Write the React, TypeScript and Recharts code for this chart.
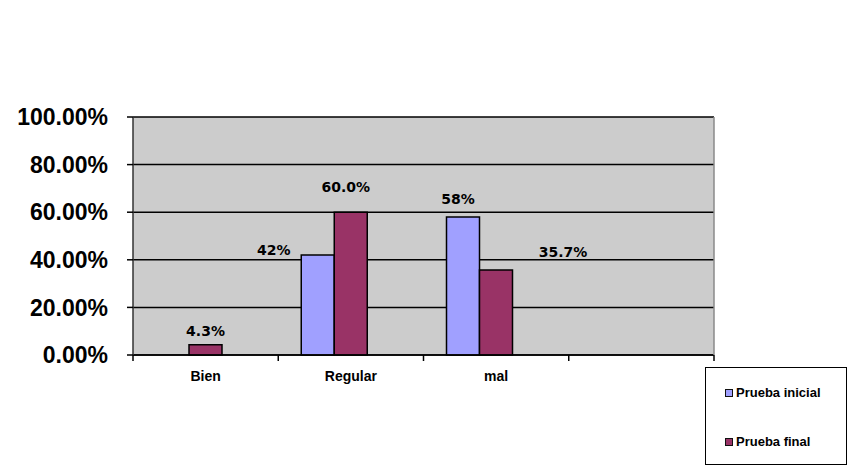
import React from "react";
import {
  BarChart,
  Bar,
  XAxis,
  YAxis,
  CartesianGrid,
  Legend,
  LabelList,
} from "recharts";

const categorias = ["Bien", "Regular", "mal", ""];
const pruebaInicial = [null, 0.42, 0.58, null];
const pruebaFinal = [0.043, 0.6, 0.357, null];
const serieVacia = [null, null, null, null];
const yTicks = [0, 0.2, 0.4, 0.6, 0.8, 1];

const data = categorias.map((cat, i) => ({
  cat,
  inicial: pruebaInicial[i],
  final: pruebaFinal[i],
  vacia: serieVacia[i],
}));

// label offsets per category (moved by hand in the original)
const offInicial = [[0, 0], [-44, -5], [-5, -18], [0, 0]];
const offFinal = [[0, -14], [-5, -25], [67, -18], [0, 0]];

const COLOR_INICIAL = "#A0A0FF";
const COLOR_FINAL = "#993366";
const TICK_SIZE = 6;
const TICK_MARGIN = 10;

const makeLabel = (serie: (number | null)[], offs: number[][], fmt: (v: number) => string) => (props: any) => {
  const { x, y, width, value } = props;
  if (value == null) return null;
  const idx = serie.indexOf(Number(value));
  const [dx, dy] = offs[idx] || [0, 0];
  return (
    <text
      x={Number(x) + Number(width) / 2 + dx}
      y={Number(y) + dy}
      textAnchor="middle"
      dominantBaseline="central"
      fontFamily="DejaVu Sans"
      fontWeight="bold"
      fontSize={14}
      fill="#000"
    >
      {fmt(Number(value))}
    </text>
  );
};

const XTick = (props: any) => {
  const { x, y, payload, width, visibleTicksCount, index } = props;
  const half = Number(width) / visibleTicksCount / 2;
  const axisY = Number(y) - TICK_SIZE - TICK_MARGIN;
  return (
    <g>
      {index === 0 && (
        <line x1={x - half} x2={x - half} y1={axisY} y2={axisY + TICK_SIZE} stroke="#000" strokeWidth={1.5} />
      )}
      <line x1={x + half} x2={x + half} y1={axisY} y2={axisY + TICK_SIZE} stroke="#000" strokeWidth={1.5} />
      <text
        x={x}
        y={y}
        dy="0.71em"
        textAnchor="middle"
        fontFamily="Liberation Sans"
        fontWeight="bold"
        fontSize={14}
        fill="#000"
      >
        {payload.value}
      </text>
    </g>
  );
};

const LegendBox = () => {
  const items = [
    { name: "Prueba inicial", color: COLOR_INICIAL, top: 18 },
    { name: "Prueba final", color: COLOR_FINAL, top: 67 },
  ];
  return (
    <div
      style={{
        width: 140,
        height: 96,
        border: "1px solid #000",
        background: "#fff",
        position: "relative",
        fontFamily: "Liberation Sans",
        fontWeight: "bold",
        fontSize: 13,
      }}
    >
      {items.map((it) => (
        <div
          key={it.name}
          style={{
            position: "absolute",
            left: 19,
            top: it.top,
            height: 13,
            display: "flex",
            alignItems: "center",
            whiteSpace: "nowrap",
          }}
        >
          <span
            style={{
              width: 6,
              height: 6,
              background: it.color,
              border: "1.5px solid #111",
              marginRight: 3,
              display: "inline-block",
            }}
          />
          <span style={{ lineHeight: "13px" }}>{it.name}</span>
        </div>
      ))}
    </div>
  );
};

export default function App() {
  return (
    <div style={{ position: "absolute", left: 0, top: 0, width: 857, height: 466, background: "#fff" }}>
      <BarChart
        width={857}
        height={466}
        data={data}
        margin={{ top: 117, right: 0, bottom: 0, left: 0 }}
        barSize={33}
        barGap={0}
      >
        <CartesianGrid vertical={false} fill="#CCCCCC" stroke="#000" strokeWidth={1.5} yAxisId="left" />
        <XAxis
          dataKey="cat"
          height={111}
          axisLine={{ stroke: "#000", strokeWidth: 1.5 }}
          tickLine={false}
          tickSize={TICK_SIZE}
          tickMargin={TICK_MARGIN}
          tick={<XTick />}
          interval={0}
        />
        <YAxis
          yAxisId="left"
          width={133}
          domain={[0, 1]}
          ticks={yTicks}
          tickFormatter={(v: number) => (v * 100).toFixed(2) + "%"}
          axisLine={{ stroke: "#333", strokeWidth: 1.5 }}
          tickLine={{ stroke: "#000", strokeWidth: 1.5 }}
          tickSize={TICK_SIZE}
          tickMargin={19}
          tick={{ fontFamily: "Liberation Sans", fontWeight: "bold", fontSize: 23, fill: "#000" }}
        />
        <YAxis
          yAxisId="right"
          orientation="right"
          width={143}
          domain={[0, 1]}
          tick={false}
          tickLine={false}
          axisLine={{ stroke: "#8a8a8a", strokeWidth: 1.5 }}
        />
        <Legend
          layout="vertical"
          align="center"
          verticalAlign="middle"
          content={<LegendBox />}
          wrapperStyle={{ left: 705, top: 367, width: 142, height: 98, right: "auto", bottom: "auto" }}
        />
        <Bar yAxisId="left" dataKey="inicial" name="Prueba inicial" fill={COLOR_INICIAL} stroke="#000" strokeWidth={1.5} isAnimationActive={false}>
          <LabelList dataKey="inicial" content={makeLabel(pruebaInicial, offInicial, (v) => Math.round(v * 100) + "%")} />
        </Bar>
        <Bar yAxisId="left" dataKey="final" name="Prueba final" fill={COLOR_FINAL} stroke="#000" strokeWidth={1.5} isAnimationActive={false}>
          <LabelList dataKey="final" content={makeLabel(pruebaFinal, offFinal, (v) => (v * 100).toFixed(1) + "%")} />
        </Bar>
        <Bar yAxisId="left" dataKey="vacia" legendType="none" fill="none" isAnimationActive={false} />
      </BarChart>
    </div>
  );
}
